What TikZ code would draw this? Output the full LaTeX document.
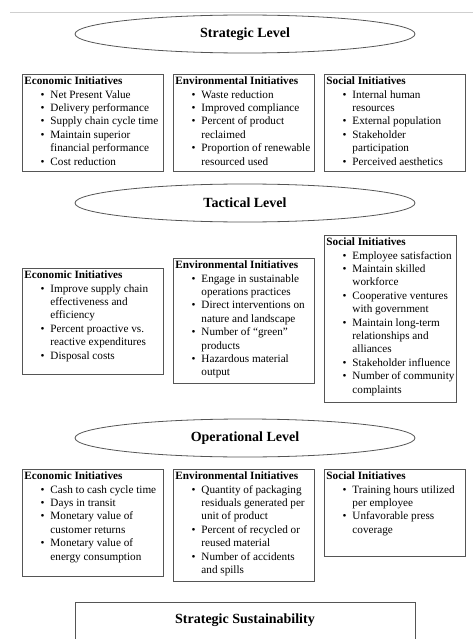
\documentclass[tikz,border=0pt]{standalone}
\usepackage{fontspec}
\setmainfont{Liberation Serif}
\usepackage{enumitem}
\usepackage{xcolor}
\usetikzlibrary{shapes.geometric}
\definecolor{boxgray}{HTML}{555555}
\definecolor{rulegray}{HTML}{CFCFCF}
\setlist[itemize]{nosep, leftmargin=26pt, labelsep=6pt, label=\textbullet}
\hyphenpenalty=10000
\tikzset{
    level-ellipse/.style = {draw=boxgray, ellipse, line width=0.8pt, minimum width=340pt, minimum height=38pt, inner sep=0pt, font=\fontsize{14}{16}\selectfont\bfseries},
    initiative-box/.style = {draw=boxgray, line width=0.9pt, rectangle, anchor=north west, inner xsep=2pt, inner ysep=2.5pt, font=\fontsize{11.2}{13.4}\selectfont},
    sustain-box/.style = {draw=boxgray, line width=0.9pt, rectangle, anchor=north, inner sep=2pt, font=\fontsize{14}{16}\selectfont\bfseries},
}

\begin{document}
\begin{tikzpicture}[x=1pt, y=-1pt]
\useasboundingbox (0,0) rectangle (473,639);
\clip (0,0) rectangle (473,639);
\draw[rulegray] (10,12) -- (473,12);

% strategic level
\node[level-ellipse] (strategic) at (245,34) {Strategic Level};
\node[initiative-box] (stratEcon) at (22,74) {\begin{minipage}[c][92pt][t]{137pt}\raggedright
    \textbf{Economic Initiatives}
    \begin{itemize}
    \item Net Present Value
    \item Delivery performance
    \item Supply chain cycle time
    \item Maintain superior\newline financial performance
    \item Cost reduction
    \end{itemize}
\end{minipage}};
\node[initiative-box] (stratEnv) at (173,74) {\begin{minipage}[c][92pt][t]{137pt}\raggedright
    \textbf{Environmental Initiatives}
    \begin{itemize}
    \item Waste reduction
    \item Improved compliance
    \item Percent of product\newline reclaimed
    \item Proportion of renewable\newline resourced used
    \end{itemize}
\end{minipage}};
\node[initiative-box] (stratSoc) at (324,74) {\begin{minipage}[c][92pt][t]{137pt}\raggedright
    \textbf{Social Initiatives}
    \begin{itemize}
    \item Internal human\newline resources
    \item External population
    \item Stakeholder\newline participation
    \item Perceived aesthetics
    \end{itemize}
\end{minipage}};

% tactical level
\node[level-ellipse] (tactical) at (245,203) {Tactical Level};
\node[initiative-box] (tactEcon) at (22,268) {\begin{minipage}[c][101pt][t]{137pt}\raggedright
    \textbf{Economic Initiatives}
    \begin{itemize}
    \item Improve supply chain\newline effectiveness and\newline efficiency
    \item Percent proactive vs.\newline reactive expenditures
    \item Disposal costs
    \end{itemize}
\end{minipage}};
\node[initiative-box] (tactEnv) at (173,258) {\begin{minipage}[c][120pt][t]{137pt}\raggedright
    \textbf{Environmental Initiatives}
    \begin{itemize}
    \item Engage in sustainable\newline operations practices
    \item Direct interventions on\newline nature and landscape
    \item Number of ``green''\newline products
    \item Hazardous material\newline output
    \end{itemize}
\end{minipage}};
\node[initiative-box] (tactSoc) at (324,235) {\begin{minipage}[c][162pt][t]{128pt}\raggedright
    \textbf{Social Initiatives}
    \begin{itemize}
    \item Employee satisfaction
    \item Maintain skilled\newline workforce
    \item Cooperative ventures\newline with government
    \item Maintain long-term\newline relationships and\newline alliances
    \item Stakeholder influence
    \item Number of community\newline complaints
    \end{itemize}
\end{minipage}};

% operational level
\node[level-ellipse] (operational) at (245,438) {Operational Level};
\node[initiative-box] (operEcon) at (22,469) {\begin{minipage}[c][102pt][t]{137pt}\raggedright
    \textbf{Economic Initiatives}
    \begin{itemize}
    \item Cash to cash cycle time
    \item Days in transit
    \item Monetary value of\newline customer returns
    \item Monetary value of\newline energy consumption
    \end{itemize}
\end{minipage}};
\node[initiative-box] (operEnv) at (173,469) {\begin{minipage}[c][107pt][t]{137pt}\raggedright
    \textbf{Environmental Initiatives}
    \begin{itemize}
    \item Quantity of packaging\newline residuals generated per\newline unit of product
    \item Percent of recycled or\newline reused material
    \item Number of accidents\newline and spills
    \end{itemize}
\end{minipage}};
\node[initiative-box] (operSoc) at (324,469) {\begin{minipage}[c][82pt][t]{137pt}\raggedright
    \textbf{Social Initiatives}
    \begin{itemize}
    \item Training hours utilized\newline per employee
    \item Unfavorable press\newline coverage
    \end{itemize}
\end{minipage}};

% bottom
\node[sustain-box] (sustain) at (245,602) {\begin{minipage}[c][60pt][t]{336pt}\centering
    \vspace{9pt}Strategic Sustainability
\end{minipage}};
\end{tikzpicture}
\end{document}
